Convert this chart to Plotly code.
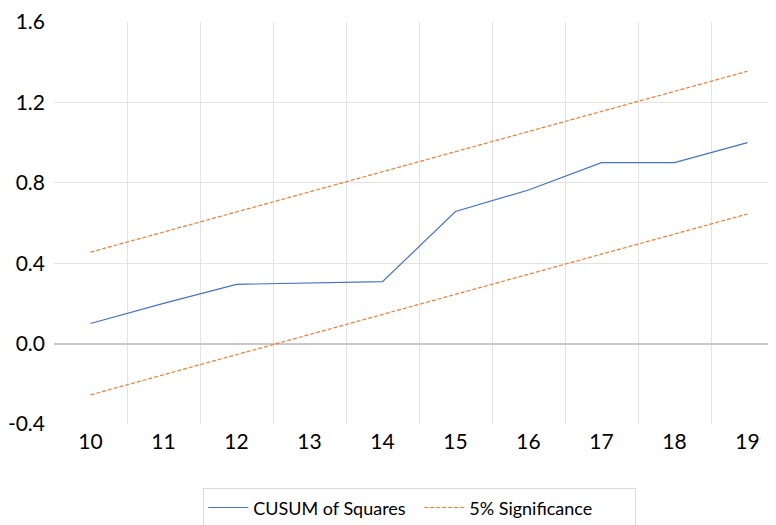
import plotly.graph_objects as go

periods = [10, 11, 12, 13, 14, 15, 16, 17, 18, 19]
cusum_sq = [0.10, 0.20, 0.295, 0.30, 0.308, 0.657, 0.764, 0.90, 0.90, 1.0]
upper_5 = [0.455, 0.555, 0.655, 0.755, 0.855, 0.955, 1.055, 1.155, 1.255, 1.355]
lower_5 = [-0.255, -0.155, -0.055, 0.045, 0.145, 0.245, 0.345, 0.445, 0.545, 0.645]
y_ticks = [-0.4, 0.0, 0.4, 0.8, 1.2, 1.6]
y_tick_text = ["-0.4", "0.0", "0.4", "0.8", "1.2", "1.6"]

FONT = "Lato, 'Open Sans', sans-serif"
BLUE = "#4472C4"
ORANGE = "#ED7D31"

fig = go.Figure()
fig.add_trace(go.Scatter(x=periods, y=cusum_sq, mode="lines", name="CUSUM of Squares",
                         line=dict(color=BLUE, width=1.2)))
fig.add_trace(go.Scatter(x=periods, y=upper_5, mode="lines", name="5% Significance",
                         legendgroup="sig", line=dict(color=ORANGE, width=1.2, dash="4px,2px")))
fig.add_trace(go.Scatter(x=periods, y=lower_5, mode="lines", name="5% Significance",
                         legendgroup="sig", showlegend=False,
                         line=dict(color=ORANGE, width=1.2, dash="4px,2px")))

fig.update_layout(
    width=776, height=525,
    margin=dict(l=46, r=0, t=14, b=109),
    paper_bgcolor="white", plot_bgcolor="white",
    font=dict(family=FONT, size=21, color="#000000"),
    showlegend=True,
    legend=dict(orientation="h", x=0.501, xanchor="center", y=-0.16, yanchor="top",
                bordercolor="#D9D9D9", borderwidth=1, font=dict(size=18),
                itemwidth=40, tracegroupgap=0, entrywidth=161, entrywidthmode="pixels"),
    xaxis=dict(range=[9.5, 19.5], tickmode="array", tickvals=periods,
               ticktext=[str(p) for p in periods], showgrid=False, zeroline=False,
               showline=False, ticks="", ticklabelstandoff=3, automargin=False,
               minor=dict(tickmode="array", tickvals=[p + 0.5 for p in periods[:-1]],
                          showgrid=True, gridcolor="#E3E3E3", gridwidth=1, ticks="")),
    yaxis=dict(range=[-0.4, 1.6], tickmode="array", tickvals=y_ticks, ticktext=y_tick_text,
               showgrid=False, zeroline=True, zerolinecolor="#C8C8C8", zerolinewidth=1.8,
               showline=False, ticks="", ticklabelstandoff=8, automargin=False,
               minor=dict(tickmode="array", tickvals=[0.4, 0.8, 1.2],
                          showgrid=True, gridcolor="#E3E3E3", gridwidth=1, ticks="")),
)

fig.write_html("out.html")
